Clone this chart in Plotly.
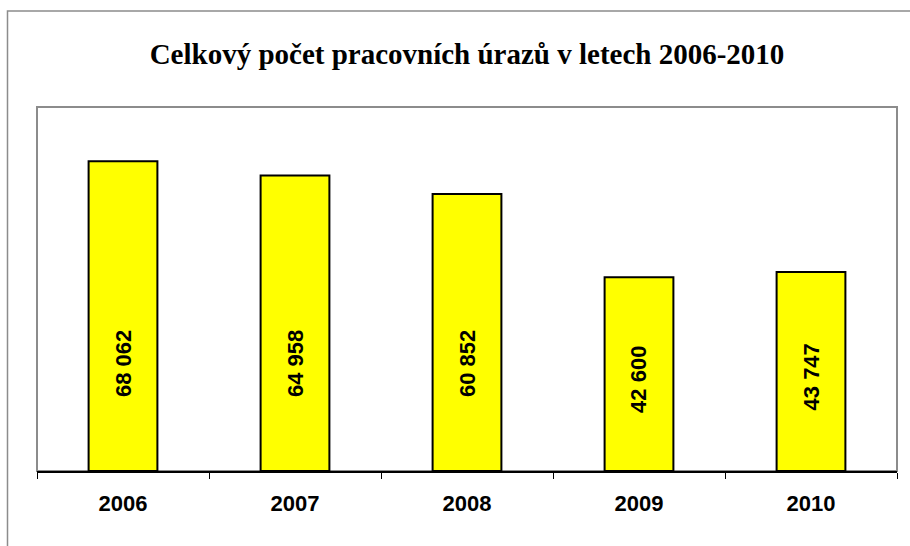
import plotly.graph_objects as go

years = ["2006", "2007", "2008", "2009", "2010"]
injuries = [68062, 64958, 60852, 42600, 43747]
title_text = "Celkový počet pracovních úrazů v letech 2006-2010"

def fmt(v):
    return f"{v:,}".replace(",", " ")

W, H = 910, 546
L, R, T, B = 37, 13, 107, 75
pw, ph = W - L - R, H - T - B

fig = go.Figure()
fig.add_trace(go.Bar(
    x=years, y=injuries,
    marker=dict(color="#FFFF00", line=dict(color="#000000", width=2)),
    hoverinfo="skip",
))

for i, v in enumerate(injuries):
    fig.add_annotation(
        x=i, y=min(0.47 * v, 23500), text=fmt(v), textangle=-90,
        showarrow=False, xref="x", yref="y",
        font=dict(family="Liberation Sans, Arial", size=22, color="#000000", weight="bold"),
    )

def px_x(px):
    return (px - L) / pw

def px_y(py):
    return (H - B - py) / ph

# outer chart border
fig.add_shape(type="rect", xref="paper", yref="paper",
              x0=px_x(7.5), x1=px_x(920), y0=px_y(11), y1=px_y(560),
              line=dict(color="#8c8c8c", width=1.5), layer="below")
# plot area border
fig.add_shape(type="rect", xref="paper", yref="paper",
              x0=0, x1=1, y0=0, y1=1,
              line=dict(color="#8c8c8c", width=2), layer="below")

fig.update_layout(
    width=W, height=H,
    margin=dict(l=L, r=R, t=T, b=B, autoexpand=False),
    paper_bgcolor="white", plot_bgcolor="white",
    bargap=0.6, showlegend=False,
    title=dict(text=title_text, x=0.5, xref="paper", xanchor="center",
               y=1 - 54 / H, yanchor="middle",
               font=dict(family="Liberation Serif, Times New Roman", size=29, color="#000000", weight="bold")),
    xaxis=dict(type="category", range=[-0.5, len(years) - 0.5], showline=True,
               linecolor="#000000", linewidth=1.5, ticks="outside",
               tickson="boundaries", ticklen=6, tickcolor="#000000", tickwidth=1,
               showgrid=False, ticklabelstandoff=12, tickangle=0, automargin=False,
               tickfont=dict(family="Liberation Sans, Arial", size=22, color="#000000", weight="bold")),
    yaxis=dict(range=[0, 80000], visible=False, showgrid=False, automargin=False),
)

fig.write_html("out.html", config={"displayModeBar": False},
               post_script="document.body.style.margin='0';")
